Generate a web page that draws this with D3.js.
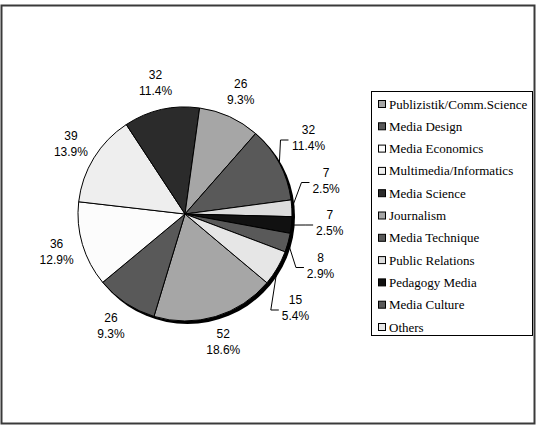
<!DOCTYPE html>
<html>
<head>
<meta charset="utf-8">
<script src="https://cdn.jsdelivr.net/npm/d3@7"></script>
<style>
  body { margin: 0; background: #fff; }
  svg { display: block; }
  .lab { font-family: "Liberation Sans", Arial, sans-serif; font-size: 12px; }
  .leg { font-family: "Liberation Serif", "Times New Roman", serif; font-size: 13px; }
</style>
</head>
<body>
<div id="chart"></div>
<script>
const categories = [
  "Publizistik/Comm.Science", "Media Design", "Media Economics", "Multimedia/Informatics",
  "Media Science", "Journalism", "Media Technique", "Public Relations",
  "Pedagogy Media", "Media Culture", "Others"
];
const counts = [52, 26, 36, 39, 32, 26, 32, 7, 7, 8, 15];
const percents = ["18.6%", "9.3%", "12.9%", "13.9%", "11.4%", "9.3%", "11.4%", "2.5%", "2.5%", "2.9%", "5.4%"];
const fills = ["#a6a6a6", "#595959", "#fcfcfc", "#eeeeee", "#2b2b2b", "#a6a6a6", "#595959", "#dcdcdc", "#111111", "#595959", "#e6e6e6"];

const width = 537, height = 433;
const cx = 185, cy = 214, r = 107;
const startDeg = 130;

const svg = d3.select("#chart").append("svg")
  .attr("width", width)
  .attr("height", height);

// outer frame
svg.append("rect")
  .attr("x", 1.5).attr("y", 5.5)
  .attr("width", 533).attr("height", 418)
  .attr("fill", "#fff")
  .attr("stroke", "#3a3a3a")
  .attr("stroke-width", 2);

const data = categories.map((c, i) => ({ name: c, value: counts[i], pct: percents[i], fill: fills[i] }));

const pie = d3.pie()
  .value(d => d.value)
  .sort(null)
  .startAngle(startDeg * Math.PI / 180)
  .endAngle((startDeg + 360) * Math.PI / 180);

const arcs = pie(data);
const arc = d3.arc().innerRadius(0).outerRadius(r);

const g = svg.append("g").attr("transform", `translate(${cx},${cy})`);

// shadow
g.append("circle")
  .attr("cx", 2.5).attr("cy", 2.5)
  .attr("r", r + 0.5)
  .attr("fill", "#000");

g.selectAll("path.slice")
  .data(arcs)
  .enter()
  .append("path")
  .attr("class", "slice")
  .attr("d", arc)
  .attr("fill", d => d.data.fill)
  .attr("stroke", "#000")
  .attr("stroke-width", 1)
  .attr("stroke-linejoin", "round");

// labels
const labelArc = d3.arc().innerRadius(r + 27).outerRadius(r + 27);
const midDeg = d => ((d.startAngle + d.endAngle) / 2 * 180 / Math.PI) % 360;

const side = arcs.filter(d => midDeg(d) > 45 && midDeg(d) < 135);
side.sort((a, b) => midDeg(a) - midDeg(b));

arcs.forEach(d => {
  const k = side.indexOf(d);
  if (k >= 0) {
    const ly = (k - (side.length - 1) / 2) * 42.5 + 9;
    const R = 145;
    const lx = Math.sqrt(R * R - ly * ly);
    d.lx = lx; d.ly = ly; d.leader = true;
  } else {
    const c = labelArc.centroid(d);
    d.lx = c[0]; d.ly = c[1]; d.leader = false;
  }
});

const labels = g.selectAll("g.label")
  .data(arcs)
  .enter()
  .append("g")
  .attr("class", "label")
  .attr("transform", d => `translate(${d.lx},${d.ly})`);

labels.append("text")
  .attr("class", "lab")
  .attr("text-anchor", "middle")
  .attr("y", -4)
  .text(d => d.data.value);

labels.append("text")
  .attr("class", "lab")
  .attr("text-anchor", "middle")
  .attr("y", 12)
  .text(d => d.data.pct);

// leader lines
g.selectAll("path.leader")
  .data(arcs.filter(d => d.leader))
  .enter()
  .append("path")
  .attr("class", "leader")
  .attr("fill", "none")
  .attr("stroke", "#000")
  .attr("stroke-width", 1)
  .attr("d", d => {
    const a = (d.startAngle + d.endAngle) / 2;
    const x0 = Math.sin(a) * r, y0 = -Math.cos(a) * r;
    const halfW = d.data.pct.length * 3.4;
    const xe = d.lx - halfW - 3;
    const xb = xe - 8;
    const ye = d.ly + 2;
    return `M${x0},${y0}L${xb},${ye}L${xe},${ye}`;
  });

// legend
const legend = svg.append("g");
legend.append("rect")
  .attr("x", 371.5).attr("y", 91.5)
  .attr("width", 161).attr("height", 244)
  .attr("fill", "#fff")
  .attr("stroke", "#000")
  .attr("stroke-width", 1);

const legY = d3.scalePoint().domain(categories).range([104, 327]);

const items = legend.selectAll("g.item")
  .data(data)
  .enter()
  .append("g")
  .attr("class", "item")
  .attr("transform", d => `translate(378,${legY(d.name)})`);

items.append("rect")
  .attr("x", 0.5).attr("y", -3.5)
  .attr("width", 7).attr("height", 7)
  .attr("fill", d => d.fill)
  .attr("stroke", "#000")
  .attr("stroke-width", 1);

items.append("text")
  .attr("class", "leg")
  .attr("x", 11)
  .attr("y", 4.5)
  .text(d => d.name);
</script>
</body>
</html>
